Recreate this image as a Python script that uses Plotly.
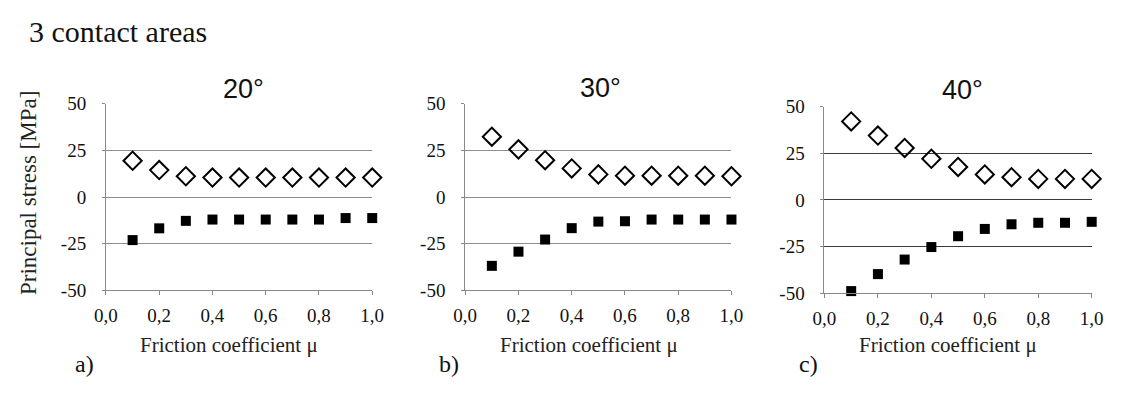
import plotly.graph_objects as go

mu = [0.1, 0.2, 0.3, 0.4, 0.5, 0.6, 0.7, 0.8, 0.9, 1.0]

# 20 degrees
max_20 = [19.5, 14.5, 11.2, 10.5, 10.5, 10.5, 10.5, 10.5, 10.5, 10.5]
min_20 = [-23.0, -16.7, -12.7, -12.0, -12.0, -12.0, -12.0, -12.0, -11.2, -11.2]
# 30 degrees
max_30 = [32.4, 25.6, 19.8, 15.4, 12.2, 11.5, 11.5, 11.5, 11.5, 11.2]
min_30 = [-36.8, -29.2, -22.7, -16.6, -13.1, -12.9, -12.0, -12.0, -12.0, -12.0]
# 40 degrees
max_40 = [42.1, 34.5, 27.9, 22.1, 17.7, 13.7, 12.2, 11.3, 11.3, 11.3]
min_40 = [-48.8, -39.7, -31.9, -25.2, -19.4, -15.5, -13.0, -12.2, -12.2, -11.7]

panel_titles = ["20°", "30°", "40°"]
panel_labels = ["a)", "b)", "c)"]
x_ticks = [0.0, 0.2, 0.4, 0.6, 0.8, 1.0]
x_ticktext = ["0,0", "0,2", "0,4", "0,6", "0,8", "1,0"]
y_ticks = [-50, -25, 0, 25, 50]
y_ticktext = ["-50", "-25", "0", "25", "50"]

W, H = 1136, 401
xdoms = [(96, 368), (463, 735), (830, 1103)]
ydoms = [(99, 296), (99, 296), (102, 299)]
title_pos = [(237, 83), (601, 82), (971, 84)]
label_x = [62, 434, 802]
gridcols = ["#8f8f8f", "#8f8f8f", "#3a3a3a"]
series = [(max_20, min_20), (max_30, min_30), (max_40, min_40)]

serif = "Liberation Serif, Times New Roman, serif"
sans = "Liberation Sans, Arial, sans-serif"

fig = go.Figure()
annotations = []
for i in range(3):
    sfx = "" if i == 0 else str(i + 1)
    xa = "x" + sfx
    ya = "y" + sfx
    mx, mn = series[i]
    fig.add_trace(go.Scatter(
        x=mu, y=mx, mode="markers", xaxis=xa, yaxis=ya, showlegend=False, cliponaxis=False,
        marker=dict(symbol="diamond-open", size=14, color="black", line=dict(width=2, color="black"))))
    fig.add_trace(go.Scatter(
        x=mu, y=mn, mode="markers", xaxis=xa, yaxis=ya, showlegend=False, cliponaxis=False,
        marker=dict(symbol="square", size=10, color="black", line=dict(width=0))))
    x0, x1 = xdoms[i]
    y0, y1 = ydoms[i]
    xaxis = dict(
        domain=[x0 / W, x1 / W], range=[0, 1.0], anchor=ya,
        tickvals=x_ticks, ticktext=x_ticktext, ticks="outside", ticklen=4,
        tickcolor="#888888", showline=True, linecolor="#888888", linewidth=1,
        showgrid=False, zeroline=False, ticklabelstandoff=4,
        tickfont=dict(family=serif, size=19, color="#111111"))
    yaxis = dict(
        domain=[(H - y1) / H, (H - y0) / H], range=[-50, 50], anchor=xa,
        tickvals=y_ticks, ticktext=y_ticktext, ticks="outside", ticklen=3,
        tickcolor="#888888", showline=True, linecolor="#888888", linewidth=1,
        showgrid=True, gridcolor=gridcols[i], gridwidth=1, zeroline=False,
        ticklabelstandoff=12,
        tickfont=dict(family=serif, size=19, color="#111111"))
    fig.update_layout(**{"xaxis" + sfx: xaxis, "yaxis" + sfx: yaxis})
    cx = (x0 + x1) / 2
    tx, ty = title_pos[i]
    annotations.append(dict(text=panel_titles[i], x=tx / W, y=(H - ty) / H,
                            xref="paper", yref="paper", showarrow=False,
                            xanchor="center", yanchor="middle",
                            font=dict(family=sans, size=27, color="#111111")))
    annotations.append(dict(text="Friction coefficient μ", x=(cx - 10) / W, y=(H - 353) / H,
                            xref="paper", yref="paper", showarrow=False,
                            xanchor="center", yanchor="middle",
                            font=dict(family=serif, size=21, color="#222222")))
    annotations.append(dict(text=panel_labels[i], x=label_x[i] / W, y=(H - 374) / H,
                            xref="paper", yref="paper", showarrow=False,
                            xanchor="left", yanchor="middle",
                            font=dict(family=serif, size=24, color="#111111")))

annotations.append(dict(text="3 contact areas", x=15 / W, y=(H - 23) / H,
                        xref="paper", yref="paper", showarrow=False,
                        xanchor="left", yanchor="middle",
                        font=dict(family=serif, size=30, color="#111111")))
annotations.append(dict(text="Principal stress [MPa]", x=17.5 / W, y=(H - 193) / H,
                        xref="paper", yref="paper", showarrow=False, textangle=-90,
                        xanchor="center", yanchor="middle",
                        font=dict(family=serif, size=23, color="#222222")))

fig.update_layout(width=W, height=H, margin=dict(l=0, r=0, t=0, b=0),
                  font=dict(family=serif, size=19, color="#111111"),
                  paper_bgcolor="white", plot_bgcolor="white",
                  annotations=annotations)
fig.write_html("out.html")
